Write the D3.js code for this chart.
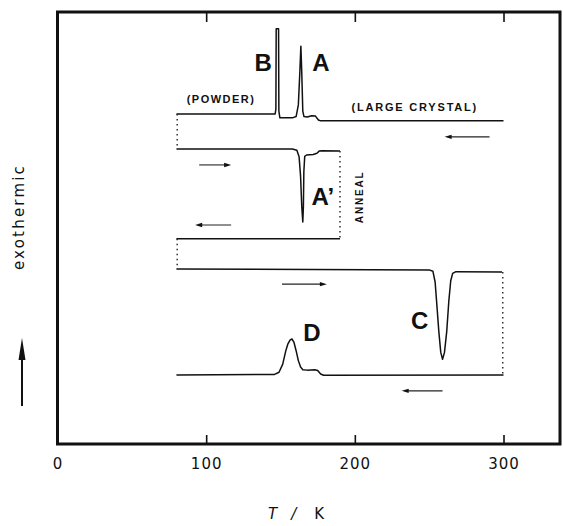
<!DOCTYPE html>
<html>
<head>
<meta charset="utf-8">
<script src="https://cdn.jsdelivr.net/npm/d3@7/dist/d3.min.js"></script>
<style>
  html, body { margin: 0; padding: 0; background: #fff; }
  svg { display: block; }
  text { fill: #111; }
</style>
</head>
<body>
<svg id="chart" width="563" height="526"></svg>
<script>
// ---------------- data ----------------
const xTicks = [0, 100, 200, 300];
const xTickLabels = ["0", "100", "200", "300"];

// Trace 1: cooling run (large crystal -> powder), peaks B and A  [T (K), signal]
const trace1 = [[80,76.4],[146.4,76.4],[146.9,77.5],[147.1,96.1],[148.7,96.1],[148.9,77],[149.6,75.5],
  [158,75.5],[160.5,75.8],[162,78.5],[163,86],[163.7,92.1],[164.3,86],[165,77],[165.8,75.8],
  [168,75.7],[171,76.0],[173.5,75.9],[175.5,75.0],[177,74.8],[300,74.8]];
// Trace 2: heating after cooling to 80 K, peak A' up to anneal temperature
const trace2 = [[80,68.3],[158,68.3],[161,68.0],[162.5,66.5],[163.5,62],[164.3,55],[165,51.4],
  [165.4,55],[165.7,63],[166.3,66.6],[167.5,66.9],[172,67.0],[174.5,67.3],[176,67.8],[178,67.9],[190,67.8]];
// Trace 3: cooling back from anneal temperature
const trace3 = [[80,47.5],[190,47.5]];
// Trace 4: heating to 300 K, peak C
const trace4 = [[80,40.5],[250,40.3],[252.5,40.0],[254,37.5],[255,33],[256.5,26],[257.8,21.2],
  [259,19.6],[260.3,21.2],[261.8,26],[263.2,33],[264.5,37.8],[265.8,39.5],[268,39.9],[299,39.8]];
// Trace 5: cooling from 300 K, peak D
const trace5 = [[80,16.0],[146,16.1],[149,16.6],[151.5,18.5],[153.5,21.5],[155,23.2],[156.5,24.1],
  [157.7,24.3],[159,23.6],[160.5,21.6],[162,19.3],[163.5,17.8],[165,17.2],[168,17.1],[173,17.2],
  [175,17.0],[177,16.2],[179,15.9],[300,16.0]];

// dotted connectors between runs: [T, from, to]
const connectors = [[80.5,76.4,68.3],[190,67.8,47.5],[80.5,47.5,40.5],[299.5,39.8,16.0]];

// direction arrows: [T start, T end (head), signal]
const arrows = [[290.6,260.4,71.1],[95.3,116.8,64.6],[116.8,92.6,50.7],[151,181.2,37.0],[259,231.5,12.3]];

// labels: [text, T, signal, size, weight, spacing, rotate]
const labels = [
  ["B", 138.3, 88.2, 24, "bold", 0, 0],
  ["A", 177.2, 88.2, 24, "bold", 0, 0],
  ["A\u2019", 178.5, 57.2, 24, "bold", 0, 0],
  ["C", 243.6, 28.5, 24, "bold", 0, 0],
  ["D", 171.1, 25.7, 24, "bold", 0, 0],
  ["(POWDER)", 110, 79.9, 11, "bold", 1.5, 0],
  ["(LARGE CRYSTAL)", 240.3, 78.0, 11, "bold", 1.8, 0],
  ["ANNEAL", 203.4, 57.2, 10, "bold", 1.8, -90]
];

// ---------------- chart ----------------
const svg = d3.select("#chart");
const pL = 57.5, pR = 560, pT = 12, pB = 444;

const x = d3.scaleLinear().domain([0, 338]).range([pL, pR]);
const y = d3.scaleLinear().domain([0, 100]).range([pB, pT]);

const lineLin = d3.line().x(d => x(d[0])).y(d => y(d[1]));

// frame
svg.append("rect").attr("x", pL).attr("y", pT)
  .attr("width", pR - pL).attr("height", pB - pT)
  .attr("fill", "none").attr("stroke", "#111").attr("stroke-width", 3);

// axes: ticks inward bottom and top
const xAxisB = d3.axisBottom(x).tickValues(xTicks).tickFormat((d,i) => xTickLabels[i])
  .tickSizeInner(-9).tickSizeOuter(0).tickPadding(14);
const gB = svg.append("g").attr("transform", `translate(0,${pB})`).call(xAxisB);
gB.select(".domain").remove();
gB.selectAll(".tick line").attr("stroke", "#111").attr("stroke-width", 1.6);
gB.selectAll(".tick text").attr("font-family", "DejaVu Sans, sans-serif")
  .attr("font-size", 15).attr("letter-spacing", 1).attr("fill", "#111");
gB.selectAll(".tick").filter(d => d === 0).select("line").remove();

const xAxisT = d3.axisTop(x).tickValues(xTicks).tickFormat("").tickSizeInner(-10).tickSizeOuter(0);
const gT = svg.append("g").attr("transform", `translate(0,${pT})`).call(xAxisT);
gT.select(".domain").remove();
gT.selectAll(".tick line").attr("stroke", "#111").attr("stroke-width", 1.6);
gT.selectAll(".tick").filter(d => d === 0).select("line").remove();

// traces
const traces = [trace1, trace2, trace3, trace4, trace5];
svg.append("g").selectAll("path").data(traces).join("path")
  .attr("d", d => lineLin(d))
  .attr("fill", "none").attr("stroke", "#111").attr("stroke-width", 1.5)
  .attr("stroke-linejoin", "round");

// dotted connectors
svg.append("g").selectAll("line").data(connectors).join("line")
  .attr("x1", d => x(d[0])).attr("x2", d => x(d[0]))
  .attr("y1", d => y(d[1])).attr("y2", d => y(d[2]))
  .attr("stroke", "#222").attr("stroke-width", 1.4).attr("stroke-dasharray", "1.5,3.5");

// arrows
const gA = svg.append("g");
arrows.forEach(a => {
  const x1 = x(a[0]), x2 = x(a[1]), yy = y(a[2]);
  const dir = Math.sign(x2 - x1);
  gA.append("line").attr("x1", x1).attr("x2", x2 - dir * 4).attr("y1", yy).attr("y2", yy)
    .attr("stroke", "#222").attr("stroke-width", 1.1);
  gA.append("path")
    .attr("d", `M${x2},${yy} L${x2 - dir * 7},${yy - 2.2} L${x2 - dir * 7},${yy + 2.2} Z`)
    .attr("fill", "#111");
});

// labels
svg.append("g").selectAll("text").data(labels).join("text")
  .attr("transform", d => `translate(${x(d[1])},${y(d[2])}) rotate(${d[6]})`)
  .attr("text-anchor", "middle").attr("dominant-baseline", "central")
  .attr("font-family", "Liberation Sans, Arial, sans-serif")
  .attr("font-size", d => d[3]).attr("font-weight", d => d[4])
  .attr("letter-spacing", d => d[5])
  .text(d => d[0]);

// y title and arrow
svg.append("text").attr("transform", "translate(19,217) rotate(-90)")
  .attr("text-anchor", "middle").attr("dominant-baseline", "central")
  .attr("font-family", "DejaVu Sans, sans-serif").attr("font-size", 15)
  .attr("letter-spacing", 2.2).text("exothermic");
svg.append("line").attr("x1", 22).attr("x2", 22).attr("y1", 406).attr("y2", 350)
  .attr("stroke", "#111").attr("stroke-width", 2);
svg.append("path").attr("d", "M22,338 L18.5,360 L25.5,360 Z").attr("fill", "#111");

// x title
const xt = svg.append("text").attr("x", 296).attr("y", 514)
  .attr("text-anchor", "middle").attr("dominant-baseline", "central")
  .attr("font-family", "DejaVu Sans, sans-serif").attr("font-size", 15);
xt.append("tspan").attr("font-style", "italic").text("T");
xt.append("tspan").attr("dx", 14).attr("font-style", "italic").text("/");
xt.append("tspan").attr("dx", 18).text("K");
</script>
</body>
</html>
